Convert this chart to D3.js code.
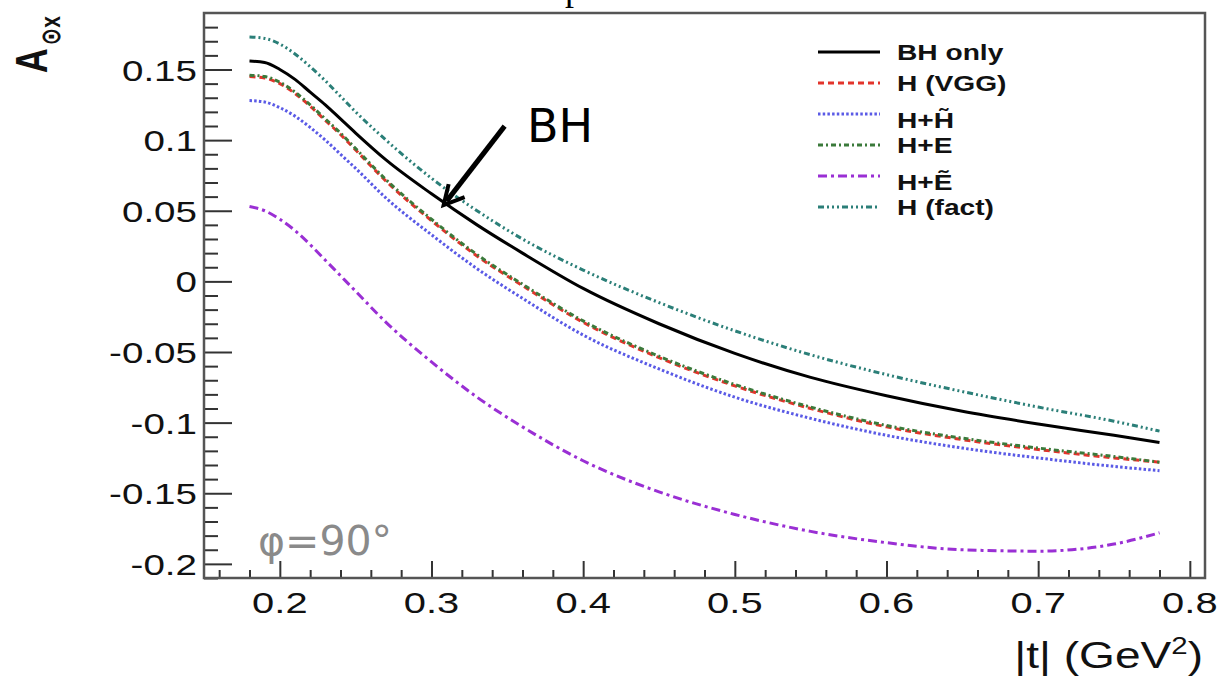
<!DOCTYPE html>
<html>
<head>
<meta charset="utf-8">
<script src="https://cdn.jsdelivr.net/npm/d3@7"></script>
<style>
body { margin: 0; background: #fff; }
svg { display: block; }
</style>
</head>
<body>
<svg id="chart" width="1219" height="680"></svg>
<script>
// |t| sample points (GeV^2)
const tVals = [0.18, 0.19, 0.2, 0.21, 0.22, 0.23, 0.24, 0.25, 0.27, 0.3, 0.33, 0.36, 0.4, 0.45, 0.5, 0.55, 0.6, 0.65, 0.7, 0.75, 0.78];

// A_ox values
const bhOnly = [0.156, 0.155, 0.150, 0.143, 0.134, 0.125, 0.115, 0.105, 0.086, 0.062, 0.040, 0.020, -0.005, -0.030, -0.051, -0.068, -0.081, -0.092, -0.101, -0.109, -0.114];
const hVgg   = [0.145, 0.144, 0.140, 0.133, 0.124, 0.114, 0.104, 0.093, 0.071, 0.043, 0.018, -0.003, -0.029, -0.054, -0.074, -0.090, -0.103, -0.112, -0.119, -0.125, -0.128];
const hHt    = [0.128, 0.127, 0.123, 0.117, 0.109, 0.100, 0.090, 0.080, 0.059, 0.033, 0.009, -0.012, -0.038, -0.062, -0.082, -0.097, -0.109, -0.118, -0.125, -0.131, -0.134];
const hE     = [0.146, 0.145, 0.141, 0.134, 0.125, 0.115, 0.105, 0.094, 0.072, 0.044, 0.019, -0.002, -0.028, -0.053, -0.073, -0.089, -0.102, -0.111, -0.118, -0.124, -0.128];
const hEt    = [0.053, 0.050, 0.044, 0.036, 0.026, 0.015, 0.004, -0.007, -0.029, -0.057, -0.082, -0.103, -0.127, -0.149, -0.165, -0.177, -0.185, -0.190, -0.191, -0.186, -0.178];
const hFact  = [0.173, 0.172, 0.168, 0.161, 0.152, 0.142, 0.131, 0.120, 0.100, 0.073, 0.050, 0.030, 0.008, -0.015, -0.035, -0.052, -0.066, -0.078, -0.089, -0.099, -0.106];

const seriesNames  = ["BH only", "H (VGG)", "H+H\u0303", "H+E", "H+E\u0303", "H (fact)"];
const seriesValues = [bhOnly, hVgg, hHt, hE, hEt, hFact];
const seriesColors = ["#000000", "#e3342b", "#5a5ae6", "#3b7a3b", "#9a2fd4", "#2b7f78"];
const seriesDash   = [null, "6,4", "2.5,2.2", "5,3,2,3", "9,4,3,4", "6,3,2,3,2,3,2,3"];
const drawOrder    = [4, 2, 1, 3, 5, 0];

const xMajor = [0.2, 0.3, 0.4, 0.5, 0.6, 0.7, 0.8];
const yMajor = [-0.2, -0.15, -0.1, -0.05, 0, 0.05, 0.1, 0.15];

const svg = d3.select("#chart");
const x = d3.scaleLinear().domain([0.15, 0.81]).range([204, 1205]);
const y = d3.scaleLinear().domain([-0.21, 0.19]).range([578, 13]);
const stretch = 1.33; // the source picture is squeezed wide

const xMinor = d3.range(16, 81, 2).filter(d => d % 10 !== 0).map(d => d / 100);
const yMinor = d3.range(-21, 19, 1).filter(d => d % 5 !== 0).map(d => d / 100);

// ticks point inward, ROOT style
function ticks(axis, vals, size) {
  return g => g.call(axis.tickValues(vals).tickSize(-size).tickFormat(""))
    .call(g => g.select(".domain").remove())
    .call(g => g.selectAll("line").attr("stroke", "#333").attr("stroke-width", 2));
}
svg.append("g").attr("transform", `translate(0,${y(-0.21)})`).call(ticks(d3.axisBottom(x), xMajor, 17));
svg.append("g").attr("transform", `translate(0,${y(-0.21)})`).call(ticks(d3.axisBottom(x), xMinor, 8));
svg.append("g").attr("transform", `translate(${x(0.15)},0)`).call(ticks(d3.axisLeft(y), yMajor, 28));
svg.append("g").attr("transform", `translate(${x(0.15)},0)`).call(ticks(d3.axisLeft(y), yMinor, 14));

// frame
svg.append("rect")
  .attr("x", x(0.15)).attr("y", y(0.19))
  .attr("width", x(0.81) - x(0.15)).attr("height", y(-0.21) - y(0.19))
  .attr("fill", "none").attr("stroke", "#555").attr("stroke-width", 2.5);

const fmt = d => String(+d.toFixed(2));

svg.selectAll(".ylab").data(yMajor).join("text")
  .attr("transform", d => `translate(197,${y(d) + 11}) scale(${stretch},1)`)
  .attr("text-anchor", "end")
  .attr("font-family", "Liberation Sans, Arial, sans-serif")
  .attr("font-size", 29).attr("fill", "#111")
  .text(fmt);

svg.selectAll(".xlab").data(xMajor).join("text")
  .attr("transform", d => `translate(${x(d)},613) scale(${stretch},1)`)
  .attr("text-anchor", "middle")
  .attr("font-family", "Liberation Sans, Arial, sans-serif")
  .attr("font-size", 30).attr("fill", "#111")
  .text(fmt);

// axis titles
const xt = svg.append("text")
  .attr("transform", `translate(1203,668) scale(1.28,1)`)
  .attr("text-anchor", "end")
  .attr("font-family", "Liberation Sans, Arial, sans-serif")
  .attr("font-size", 36).attr("fill", "#111");
xt.append("tspan").text("|t| (GeV");
xt.append("tspan").attr("font-size", 23).attr("dy", -14).text("2");
xt.append("tspan").attr("dy", 14).text(")");

const yt = svg.append("text")
  .attr("transform", `translate(47,73) rotate(-90) scale(1,1.3)`)
  .attr("font-family", "Liberation Sans, DejaVu Sans, sans-serif")
  .attr("font-weight", "bold")
  .attr("font-size", 34).attr("fill", "#111");
yt.append("tspan").text("A");
yt.append("tspan").attr("font-size", 21).attr("dy", 10).attr("dx", 3).text("\u2299x");

// curves
const line = d3.line()
  .x((d, i) => x(tVals[i]))
  .y(d => y(d))
  .curve(d3.curveMonotoneX);

drawOrder.forEach(k => {
  svg.append("path")
    .datum(seriesValues[k])
    .attr("d", line)
    .attr("fill", "none")
    .attr("stroke", seriesColors[k])
    .attr("stroke-width", 3)
    .attr("stroke-dasharray", seriesDash[k]);
});

// legend
const legY = [52, 83, 114, 145, 176, 207];
seriesNames.forEach((name, k) => {
  svg.append("line")
    .attr("x1", 818).attr("x2", 880)
    .attr("y1", legY[k]).attr("y2", legY[k])
    .attr("stroke", seriesColors[k]).attr("stroke-width", 3)
    .attr("stroke-dasharray", seriesDash[k]);
  const tilde = name.includes("\u0303");
  svg.append("text")
    .attr("transform", `translate(897,${legY[k] + (tilde ? 14 : 8)}) scale(1.28,1)`)
    .attr("font-family", "Liberation Sans, Arial, sans-serif")
    .attr("font-weight", "bold")
    .attr("font-size", 22).attr("fill", "#111")
    .text(name);
});

// annotations
svg.append("text")
  .attr("x", 258).attr("y", 555)
  .attr("font-family", "DejaVu Sans, sans-serif")
  .attr("font-size", 41).attr("fill", "#8a8a8a")
  .text("\u03c6=90\u00b0");

svg.append("text")
  .attr("x", 527).attr("y", 142)
  .attr("font-family", "DejaVu Sans, sans-serif")
  .attr("font-size", 46).attr("fill", "#000")
  .text("BH");

const tipX = x(0.308), tipY = y(0.054);
svg.append("line")
  .attr("x1", tipX + 61).attr("y1", tipY - 79)
  .attr("x2", tipX + 3).attr("y2", tipY - 4)
  .attr("stroke", "#000").attr("stroke-width", 5);
svg.append("path")
  .attr("d", `M${tipX + 5},${tipY - 21} L${tipX},${tipY} L${tipX + 21},${tipY - 8}`)
  .attr("fill", "none").attr("stroke", "#000").attr("stroke-width", 4);

// cut-off title at the very top
svg.append("text")
  .attr("x", 565).attr("y", 0)
  .attr("font-family", "Liberation Serif, serif")
  .attr("font-size", 36).attr("fill", "#000")
  .text("p");
</script>
</body>
</html>
